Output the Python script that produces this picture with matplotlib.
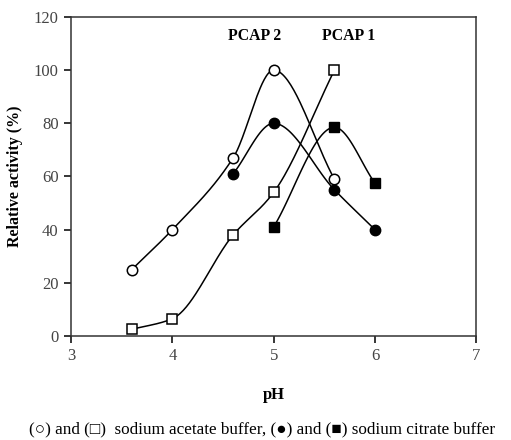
import numpy as np
import matplotlib.pyplot as plt

# pH values and relative activity (%)
ph_acetate = [3.6, 4.0, 4.6, 5.0, 5.6]
act_circle_open = [25, 40, 67, 100, 59]      # PCAP 2, sodium acetate
act_square_open = [2.5, 6.5, 38, 54, 100]     # PCAP 1, sodium acetate
ph_citrate_c = [4.6, 5.0, 5.6, 6.0]
act_circle_fill = [61, 80, 55, 40]            # PCAP 2, sodium citrate
ph_citrate_s = [5.0, 5.6, 6.0]
act_square_fill = [41, 78.5, 57.5]            # PCAP 1, sodium citrate


def smooth(x, y, n=40):
    # monotone cubic (pchip-like) curve through the points
    x = np.asarray(x, float)
    y = np.asarray(y, float)
    h = np.diff(x)
    d = np.diff(y) / h
    m = np.zeros_like(y)
    for k in range(1, len(x) - 1):
        if d[k - 1] * d[k] > 0:
            w1 = 2 * h[k] + h[k - 1]
            w2 = h[k] + 2 * h[k - 1]
            m[k] = (w1 + w2) / (w1 / d[k - 1] + w2 / d[k])
    m[0] = d[0]
    m[-1] = d[-1]
    xs, ys = [], []
    t = np.linspace(0, 1, n)
    for k in range(len(x) - 1):
        h00 = 2 * t**3 - 3 * t**2 + 1
        h10 = t**3 - 2 * t**2 + t
        h01 = -2 * t**3 + 3 * t**2
        h11 = t**3 - t**2
        xs.extend(x[k] + t * h[k])
        ys.extend(h00 * y[k] + h10 * h[k] * m[k] + h01 * y[k + 1] + h11 * h[k] * m[k + 1])
    return xs, ys


plt.rcParams['font.family'] = ['Liberation Serif', 'DejaVu Serif']
fig = plt.figure(figsize=(5.11, 4.40), dpi=100)
ax = fig.add_axes([0.139, 0.2364, 0.793, 0.725])

for x, y in [(ph_acetate, act_circle_open), (ph_acetate, act_square_open),
             (ph_citrate_c, act_circle_fill), (ph_citrate_s, act_square_fill)]:
    sx, sy = smooth(x, y)
    ax.plot(sx, sy, color='black', lw=1.1, zorder=2)

ax.plot(ph_acetate, act_circle_open, 'o', ms=7.5, mfc='white', mec='black', mew=1.1, zorder=3)
ax.plot(ph_acetate, act_square_open, 's', ms=7.5, mfc='white', mec='black', mew=1.1, zorder=3)
ax.plot(ph_citrate_c, act_circle_fill, 'o', ms=7.5, mfc='black', mec='black', zorder=3)
ax.plot(ph_citrate_s, act_square_fill, 's', ms=7.5, mfc='black', mec='black', zorder=3)

ax.text(4.81, 113, 'PCAP 2', ha='center', va='center', fontsize=11.3, fontweight='bold')
ax.text(5.74, 113, 'PCAP 1', ha='center', va='center', fontsize=11.3, fontweight='bold')

ax.set_xlim(3, 7)
ax.set_ylim(0, 120)
ax.set_xticks([3, 4, 5, 6, 7])
ax.set_yticks([0, 20, 40, 60, 80, 100, 120])
ax.tick_params(labelsize=12, labelcolor='#444444', length=5, width=1.1, direction='out', pad=4)
for s in ax.spines.values():
    s.set_linewidth(1.1)
    s.set_color('#333333')

ax.set_xlabel('pH', fontsize=12, fontweight='bold', labelpad=16)
ax.set_ylabel('Relative activity (%)', fontsize=11.5, fontweight='bold', labelpad=8)

fig.text(0.513, 0.025, '(\u25cb) and (\u25a1)  sodium acetate buffer, (\u25cf) and (\u25a0) sodium citrate buffer',
         ha='center', va='center', fontsize=12.3)

fig.savefig('out.png', dpi=100)
